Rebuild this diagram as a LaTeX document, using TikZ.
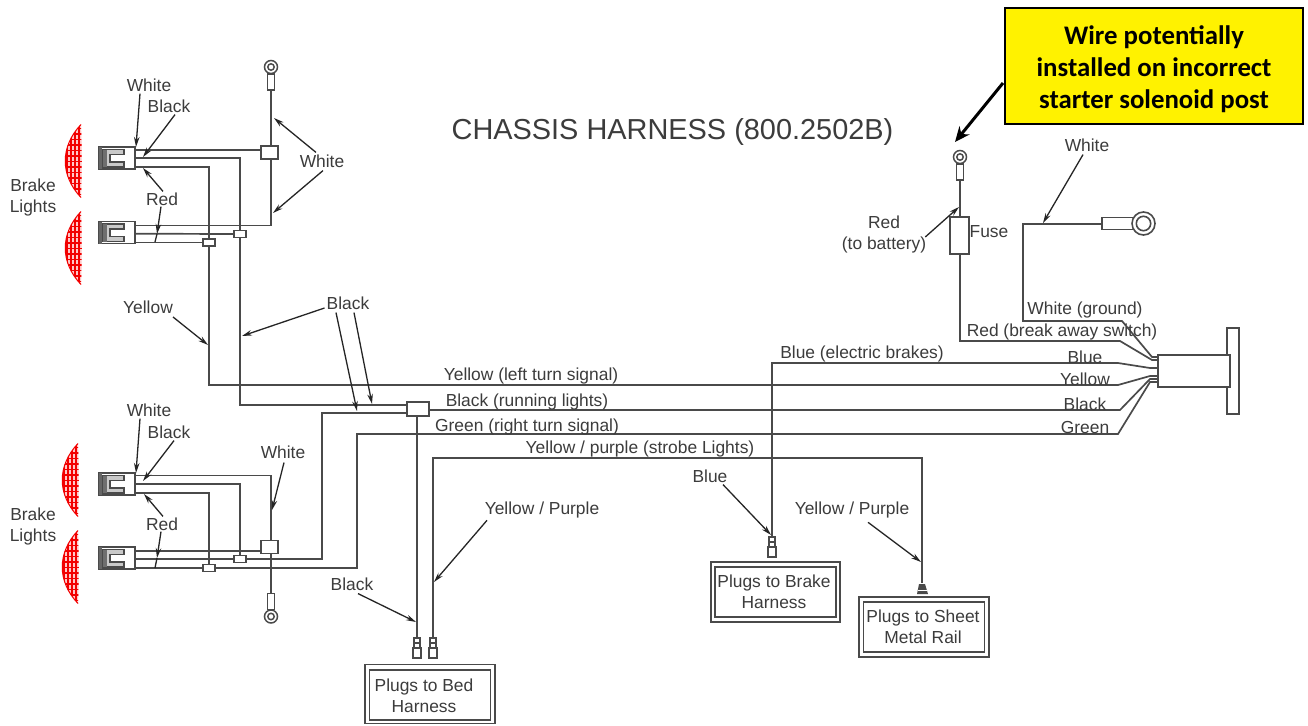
\documentclass[tikz,border=0pt]{standalone}
\usepackage{fontspec}
\setmainfont{Liberation Sans}
\newfontfamily\calloutfont{Carlito}
\usetikzlibrary{arrows.meta}
\definecolor{ink}{HTML}{4A4A4A}
\definecolor{txt}{HTML}{3C3C3C}
\tikzset{
  x=1pt,y=-1pt,
  wire/.style={draw=ink,line width=1.7pt},
  leader/.style={draw=ink!50!black,line width=1.3pt,-{Stealth[length=10pt,width=5.5pt]}},
  lab/.style={text=txt,font=\fontsize{17.4}{21}\selectfont,inner sep=0pt,align=center},
  junction/.style={draw=ink,fill=white,line width=1.6pt,inner sep=0pt,rectangle},
  bigjunction/.style={junction,minimum width=17pt,minimum height=13pt},
  smalljunction/.style={junction,minimum width=12pt,minimum height=7pt},
  plugbox/.style={draw=ink,fill=white,line width=1.6pt,inner sep=0pt,minimum width=121pt,minimum height=50pt},
  connector/.pic={
    \draw[ink,fill=white,line width=1.6pt] (0,0) rectangle (36,22);
    \fill[ink!85] (0,0) rectangle (3,22);
    \draw[ink,fill=ink!30,line width=1.2pt] (25,2.5) -- (4,2.5) -- (4,20) -- (25,20) -- (25,15) -- (11,15) -- (11,7.5) -- (25,7.5) -- cycle;
    \fill[ink!80] (4,2.5) rectangle (8,20);
  },
  lens/.pic={
    \begin{scope}
      \clip (16,0) .. controls (-5,22) and (-5,51) .. (16,73) .. controls (17,50) and (17,24) .. (16,0);
      \fill[red!22] (-2,-1) rectangle (18,74);
      \foreach \yy in {4,9.5,...,74}{\draw[red!95!black,line width=1.3pt] (-2,\yy) -- (18,\yy);}
      \foreach \xx in {2,6,10,14}{\draw[red!95!black,line width=1.3pt] (\xx,0) -- (\xx,74);}
    \end{scope}
    \draw[red!95!black,line width=1pt] (16,0) .. controls (-5,22) and (-5,51) .. (16,73);
  },
  ringlug/.pic={
    \draw[ink,line width=1.5pt] (0,0) circle (6.5pt);
    \draw[ink,line width=1.5pt] (0,0) circle (3.2pt);
    \draw[ink,fill=white,line width=1.4pt] (-3.5,7) rectangle (3.5,23);
  },
  ringlugup/.pic={
    \draw[ink,line width=1.5pt] (0,0) circle (6.5pt);
    \draw[ink,line width=1.5pt] (0,0) circle (3.2pt);
    \draw[ink,fill=white,line width=1.4pt] (-3.5,-7) rectangle (3.5,-23);
  },
  bullet/.pic={
    \draw[ink,fill=white,line width=1.4pt] (-3,0) rectangle (3,10);
    \draw[ink,fill=white,line width=1.4pt] (-4,10) rectangle (4,20);
    \draw[ink,line width=1.4pt] (-3,5) -- (3,5);
  },
}
\begin{document}
\begin{tikzpicture}
\useasboundingbox (0,0) rectangle (1308,725);
\fill[white] (0,0) rectangle (1308,725);

% lenses
\pic at (65,124.5) {lens};
\pic at (65,211.5) {lens};
\pic at (62,443.5) {lens};
\pic at (62,530.5) {lens};

% connector coordinates
\coordinate (ua) at (135,150); \coordinate (ub) at (135,158); \coordinate (uc) at (135,167);
\coordinate (va) at (135,225.5); \coordinate (vb) at (135,233.7); \coordinate (vc) at (135,242.5);
\coordinate (wa) at (135,475.5); \coordinate (wb) at (135,484); \coordinate (wc) at (135,493);
\coordinate (xa) at (135,551); \coordinate (xb) at (135,559); \coordinate (xc) at (135,568);
\coordinate (tl) at (271,90); \coordinate (bl) at (271,593);
\coordinate (blk) at (240,405);
\coordinate (rcp) at (1158,360);

% junction boxes
\node[bigjunction] (j1) at (269.5,152.5) {};
\node[bigjunction] (j2) at (269.5,547) {};
\node[smalljunction] (s1) at (240,234) {};
\node[smalljunction] (s2) at (209,242.5) {};
\node[smalljunction] (s3) at (240,559) {};
\node[smalljunction] (s4) at (209,568) {};
\node[junction,minimum width=22pt,minimum height=14pt] (main) at (418,409) {};
\node[junction,minimum width=19pt,minimum height=37pt] (fuse) at (959.5,235.5) {};

% plug boxes
\node[plugbox,minimum width=129pt,minimum height=60pt] (brakeo) at (775.5,592) {};
\node[plugbox] (brake) at (775.5,592) {};
\node[plugbox,minimum width=130pt,minimum height=60pt] (sheeto) at (924,627) {};
\node[plugbox] (sheet) at (924,627) {};
\node[plugbox,minimum width=130pt,minimum height=59pt] (bedo) at (430,694) {};
\node[plugbox] (bed) at (430,695) {};
\node[lab] (brakelab) at (774,592) {Plugs to Brake\\Harness};
\node[lab] (sheetlab) at (923,627) {Plugs to Sheet\\Metal Rail};
\node[lab] (bedlab) at (424,696) {Plugs to Bed\\Harness};

% upper lights wiring
\draw[wire] (ua) -- (ua -| j1.west);
\draw[wire] (ub) -| (s1.north);
\draw[wire] (uc) -| (s2.north);
\draw[wire] (va) -| (tl |- j1.south);
\draw[wire] (vb) -- (s1.west);
\draw[wire] (vc) -- (s2.west);
\draw[wire] (tl) -- (tl |- j1.north);
% lower lights wiring
\draw[wire] (wa) -| (bl |- j2.north);
\draw[wire] (wb) -| (s3.north);
\draw[wire] (wc) -| (s4.north);
\draw[wire] (xa) -- (xa -| j2.west);
\draw[wire] (xb) -- (s3.west);
\draw[wire] (xc) -- (s4.west);
\draw[wire] (bl |- j2.south) -- (bl);
% trunk wires
\coordinate (ybend) at (1118,385);
\coordinate (kbend) at (1120,410);
\coordinate (gbend) at (1118,434);
\coordinate (bbend) at (1118,363);
\coordinate (rbend) at (1120,341);
\coordinate (wbend) at (1122,321);
\draw[wire] (s2.south) |- (ybend) -- (1150,376) -- (rcp |- 0,376);
\draw[wire] (s1.south) |- (main.west |- blk);
\draw[wire] (main.east |- kbend) -- (kbend) -- (1150,379) -- (rcp |- 0,379);
\draw[wire] (s3.east) -- (322,559) |- (main.west |- 0,412.7);
\draw[wire] (s4.east) -- (357,568) |- (gbend) -- (1150,382) -- (rcp |- 0,382);
% bed plugs
\coordinate (bedk) at (417,638);
\coordinate (bedy) at (433,638);
\coordinate (sheetc) at (922,583);
\coordinate (brakec) at (772,537);
\draw[wire] (main.south -| bedk) -- (bedk);
\draw[wire] (bedy) |- (922,458) -- (sheetc);
\draw[wire] (brakec) |- (bbend) -- (1150,368) -- (rcp |- 0,368);
% battery and ground
\coordinate (bat) at (960,180);
\coordinate (gndlug) at (1102,224);
\draw[wire] (bat) -- (bat |- fuse.north);
\draw[wire] (bat |- fuse.south) |- (rbend) -- (1152,360) -- (rcp);
\draw[wire] (gndlug) -| (1023,321) -- (wbend) -- (1152,357) -- (rcp |- 0,357);

% connector bodies
\pic at (99,147) {connector};
\pic at (99,221.5) {connector};
\pic at (99,473) {connector};
\pic at (99,547) {connector};

% ring lugs
\pic at (271,67) {ringlug};
\pic at (271,616.5) {ringlugup};
\pic at (960,157) {ringlug};
\draw[ink,fill=white,line width=1.4pt] (1102,217.5) rectangle (1134,229.5);
\draw[ink,fill=white,line width=1.6pt] (1143.5,223.5) circle (11.5pt);
\draw[ink,line width=1.6pt] (1143.5,223.5) circle (7.2pt);

% rear connector
\node[junction,minimum width=12pt,minimum height=86pt] (plate) at (1233,371) {};
\node[junction,minimum width=72pt,minimum height=32pt] (rear) at (1194,371) {};

% bullets
\pic at (417,638) {bullet};
\pic at (433,638) {bullet};
\pic at (772,537) {bullet};
\fill[ink] (917,594) -- (919,584) -- (925,584) -- (928,594) -- cycle;
\draw[white,line width=0.6pt] (918,590) -- (927,590);

% title
\node[text=txt,inner sep=0pt,font=\fontsize{28.9}{34}\selectfont] (title) at (672.5,132) {CHASSIS HARNESS (800.2502B)};

% callout
\node[draw=black,line width=2pt,fill=yellow,minimum width=298pt,minimum height=116pt,inner sep=0pt] (call) at (1154,66) {};
\node[text=black,inner sep=0pt,align=center,font=\calloutfont\bfseries\fontsize{26.8}{32}\selectfont] (calltext) at (1154,69) {Wire potentially\\installed on incorrect\\starter solenoid post};
\coordinate (callend) at (955,142);
\draw[black,line width=3pt,-{Stealth[length=15pt,width=13pt]}] (1003,83) -- (callend);

% labels
\node[lab] (l1) at (149,85) {White};
\node[lab] (l2) at (169,106) {Black};
\node[lab] (l3) at (162,199) {Red};
\node[lab] (l4) at (33,197.5) {Brake\\Lights};
\node[lab] (l5) at (322,161) {White};
\node[lab] (l6) at (148,307) {Yellow};
\node[lab] (l7) at (348,303) {Black};
\node[lab] (l8) at (149,410) {White};
\node[lab] (l9) at (169,432) {Black};
\node[lab] (l10) at (162,524) {Red};
\node[lab] (l11) at (33,526.5) {Brake\\Lights};
\node[lab] (l12) at (283,452) {White};
\node[lab] (l13) at (531,376) {Yellow (left turn signal)};
\node[lab] (l14) at (527,402) {Black (running lights)};
\node[lab] (l15) at (527,427) {Green (right turn signal)};
\node[lab] (l16) at (640,449) {Yellow / purple (strobe Lights)};
\node[lab] (l17) at (862,354) {Blue (electric brakes)};
\node[lab] (l18) at (884,234) {Red\\(to battery)};
\node[lab] (l19) at (989,232) {Fuse};
\node[lab] (l20) at (1087,145) {White};
\node[lab] (l21) at (1085,310) {White (ground)};
\node[lab] (l22) at (1062,332) {Red (break away switch)};
\node[lab] (l23) at (1085,357) {Blue};
\node[lab] (l24) at (1085,379) {Yellow};
\node[lab] (l25) at (1085,404) {Black};
\node[lab] (l26) at (1085,428) {Green};
\node[lab] (l27) at (710,476) {Blue};
\node[lab] (l28) at (852,510) {Yellow / Purple};
\node[lab] (l29) at (542,510) {Yellow / Purple};
\node[lab] (l30) at (352,584) {Black};

% leader targets
\coordinate (t1) at (136,147); \coordinate (t2) at (143,157); \coordinate (t3) at (143,168);
\coordinate (t4) at (157,234); \coordinate (t4e) at (155,242);
\coordinate (t5) at (274,118); \coordinate (t6) at (273,213);
\coordinate (t7) at (208,345); \coordinate (t8) at (242,336); \coordinate (t9) at (357,411); \coordinate (t10) at (372,404);
\coordinate (t11) at (136,473); \coordinate (t12) at (143,481); \coordinate (t13) at (144,494);
\coordinate (t14) at (157,558); \coordinate (t14e) at (155,568);
\coordinate (t15) at (272,510);
\coordinate (t16) at (959,207); \coordinate (t17) at (1043,223);
\coordinate (t18) at (416,622); \coordinate (t19) at (434,582); \coordinate (t20) at (771,535); \coordinate (t21) at (921,562);

\draw[leader] (l1.south) ++(-9,2) -- (t1);
\draw[leader] (l2.south) ++(6,2) -- (t2);
\draw[leader] (l3.north) ++(1,-1) -- (t3);
\draw[leader] (l3.south) ++(-1,1) -- (t4);
\draw[ink!50!black,line width=1.3pt] (t4) -- (t4e);
\draw[leader] (l5.north) ++(-6,-2) -- (t5);
\draw[leader] (l5.south) ++(1,3) -- (t6);
\draw[leader] (l6.east) ++(0,10) -- (t7);
\draw[leader] (l7.west) ++(-2,5) -- (t8);
\draw[leader] (l7.south) ++(-12,3) -- (t9);
\draw[leader] (l7.south) ++(6,3) -- (t10);
\draw[leader] (l8.south) ++(-9,2) -- (t11);
\draw[leader] (l9.south) ++(5,2) -- (t12);
\draw[leader] (l10.north) ++(1,-1) -- (t13);
\draw[leader] (l10.south) ++(-1,1) -- (t14);
\draw[ink!50!black,line width=1.3pt] (t14) -- (t14e);
\draw[leader] (l12.south) ++(1,4) -- (t15);
\draw[leader] (l18.east) ++(-1,3) -- (t16);
\draw[leader] (l20.south) ++(-4,3) -- (t17);
\draw[leader] (l30.south) ++(6,3) -- (t18);
\draw[leader] (l29.south) ++(-55,2) -- (t19);
\draw[leader] (l27.south) ++(13,2) -- (t20);
\draw[leader] (l28.south) ++(16,4) -- (t21);
\end{tikzpicture}
\end{document}
